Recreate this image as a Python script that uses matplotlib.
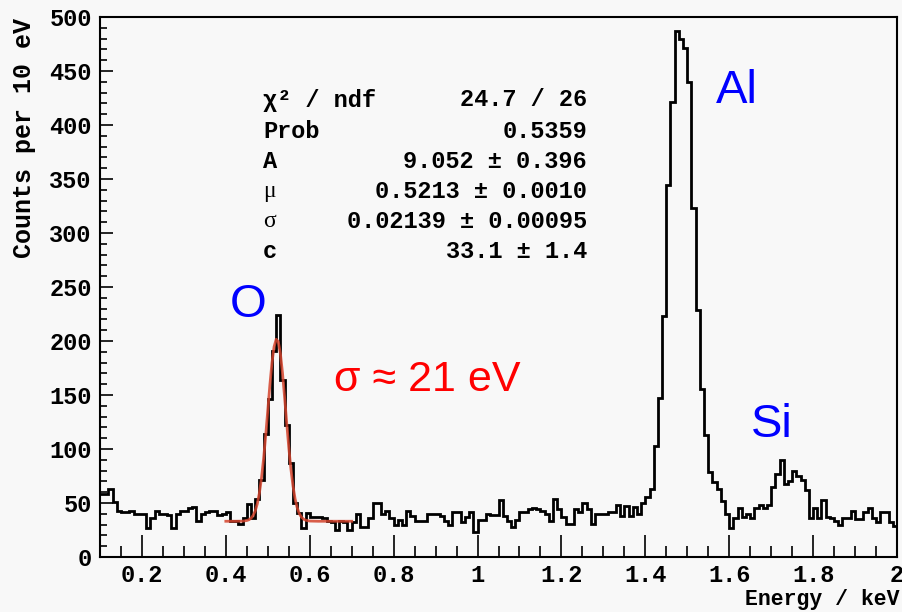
import matplotlib
matplotlib.use("Agg")
import matplotlib.pyplot as plt
from matplotlib.ticker import MultipleLocator, FuncFormatter
import numpy as np

# histogram: 10 eV bins from 0.10 to 2.00 keV
e_lo, e_hi = 0.10, 2.00
counts = [
    58, 58, 63, 51, 43, 42, 42, 43, 40, 40,
    40, 27, 36, 43, 40, 40, 39, 27, 40, 43,
    43, 45, 46, 33, 40, 42, 43, 43, 39, 40,
    42, 33, 33, 31, 36, 49, 36, 54, 71, 114,
    146, 191, 224, 164, 122, 87, 50, 41, 27, 41,
    37, 37, 37, 36, 33, 32, 25, 33, 32, 25,
    32, 40, 28, 28, 36, 50, 50, 40, 43, 36,
    30, 34, 30, 43, 38, 33, 33, 33, 40, 40,
    40, 38, 33, 30, 42, 42, 32, 37, 42, 23,
    34, 34, 40, 39, 39, 53, 38, 33, 28, 34,
    42, 42, 44, 45, 44, 43, 40, 33, 54, 44,
    37, 31, 31, 44, 42, 50, 44, 31, 40, 40,
    40, 42, 42, 48, 38, 47, 38, 46, 40, 50,
    56, 63, 103, 147, 223, 344, 421, 487, 480, 471,
    440, 323, 229, 156, 113, 79, 69, 63, 52, 40,
    27, 36, 45, 37, 40, 36, 45, 48, 45, 48,
    65, 77, 90, 68, 70, 80, 75, 71, 62, 36,
    45, 36, 53, 37, 36, 33, 30, 36, 36, 43,
    35, 35, 42, 45, 36, 32, 42, 42, 32, 29,
]

# red fit curve
fit_x = [0.40, 0.42, 0.44, 0.45, 0.455, 0.46, 0.465, 0.47, 0.475, 0.48,
         0.485, 0.49, 0.495, 0.50, 0.505, 0.51, 0.515, 0.52, 0.525, 0.53,
         0.535, 0.54, 0.545, 0.55, 0.555, 0.56, 0.565, 0.57, 0.575, 0.58,
         0.585, 0.59, 0.60, 0.62, 0.65, 0.70]
fit_y = [33.1, 33.1, 33.2, 33.8, 34.5, 35.9, 38.4, 42.6, 49.3, 59.3,
         73.1, 91.0, 112.4, 135.9, 159.3, 180.0, 194.7, 201.6, 199.4, 188.5,
         170.6, 148.3, 124.5, 101.7, 81.9, 66.0, 54.0, 45.7, 40.3, 37.0,
         35.1, 34.1, 33.3, 33.1, 33.1, 33.1]

stat_names = ["χ² / ndf", "Prob", "A", "μ", "σ", "c"]
stat_vals = ["24.7 / 26", "0.5359", "9.052 ± 0.396", "0.5213 ± 0.0010",
             "0.02139 ± 0.00095", "33.1 ± 1.4"]

mono = "Liberation Mono"
bg = "#f8f8f8"
W, H = 903, 612

fig = plt.figure(figsize=(W / 100, H / 100), dpi=100, facecolor=bg)
ax = fig.add_axes([100 / W, 1 - 557 / H, 797 / W, 540 / H], facecolor=bg)

edges = np.round(np.linspace(e_lo, e_hi, len(counts) + 1), 3)
ax.stairs(counts, edges, baseline=None, color="black", lw=2)
ax.plot(fit_x, fit_y, color="#d4432c", lw=2, alpha=0.85)

ax.set_xlim(e_lo, e_hi)
ax.set_ylim(0, 500)
ax.xaxis.set_major_locator(MultipleLocator(0.2))
ax.xaxis.set_minor_locator(MultipleLocator(0.05))
ax.yaxis.set_major_locator(MultipleLocator(50))
ax.yaxis.set_minor_locator(MultipleLocator(10))
ax.xaxis.set_major_formatter(FuncFormatter(lambda v, p: f"{v:g}"))
ax.tick_params(axis="x", which="major", direction="in", length=16, width=1.2, pad=5)
ax.tick_params(axis="x", which="minor", direction="in", length=8, width=1.2)
ax.tick_params(axis="y", which="major", direction="in", length=9, width=1.2, pad=6)
ax.tick_params(axis="y", which="minor", direction="in", length=5, width=1.2)
for lab in ax.get_xticklabels() + ax.get_yticklabels():
    lab.set_fontfamily(mono)
    lab.set_fontweight("bold")
    lab.set_fontsize(17)
for s in ax.spines.values():
    s.set_linewidth(1.5)

fig.text(24 / W, 1 - 18 / H, "Counts per 10 eV", rotation=90, ha="center", va="top",
         fontfamily=mono, fontweight="bold", fontsize=18)
fig.text(900 / W, 1 - 605 / H, "Energy / keV", ha="right", va="baseline",
         fontfamily=mono, fontweight="bold", fontsize=15.5)

# fit statistics
row_y = [100, 131, 161, 191, 221, 251]
for name, val, py in zip(stat_names, stat_vals, row_y):
    greek = name in ("μ", "σ")
    fig.text(263 / W, 1 - py / H, name, ha="left", va="center",
             fontfamily="Liberation Serif" if greek else mono,
             fontweight="normal" if greek else "bold", fontsize=17)
    fig.text(587 / W, 1 - py / H, val, ha="right", va="center",
             fontfamily=mono, fontweight="bold", fontsize=17)

# peak labels
sans = "Liberation Sans"
ax.text(0.452, 222, "O", color="#0000ff", fontsize=34, fontfamily=sans, ha="center", va="baseline")
ax.text(1.619, 420, "Al", color="#0000ff", fontsize=34, fontfamily=sans, ha="center", va="baseline")
ax.text(1.702, 111, "Si", color="#0000ff", fontsize=34, fontfamily=sans, ha="center", va="baseline")
ax.text(0.880, 154, "σ ≈ 21 eV", color="#ff0000", fontsize=31, fontfamily=sans, ha="center", va="baseline")

fig.savefig("out.png", dpi=100, facecolor=bg)
